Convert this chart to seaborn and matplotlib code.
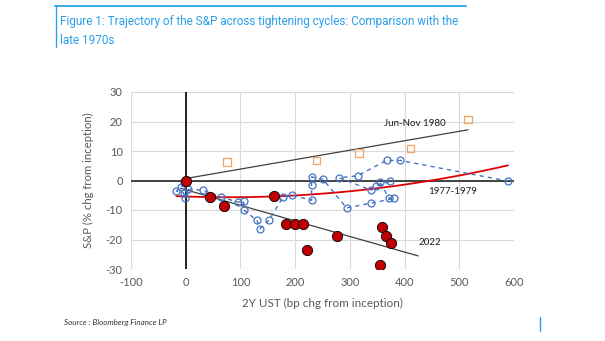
import numpy as np
import pandas as pd
import matplotlib
matplotlib.use("Agg")
import matplotlib.pyplot as plt
import seaborn as sns
from matplotlib.lines import Line2D

# ---- data ----
x_2022 = [0, 45, 70, 161, 183, 199, 215, 222, 277, 358, 366, 375, 355]
y_2022 = [0, -5.6, -8.8, -5.2, -14.6, -14.6, -14.6, -23.4, -18.8, -15.8, -18.9, -21.1, -28.6]

x_1980 = [0, 75, 239, 317, 411, 516]
y_1980 = [0, 6.2, 6.8, 9.3, 10.9, 20.7]

x_7779 = [-3, -9, -17, -4, -1, 5, 32, 64, 95, 106, 106, 130, 136, 152, 178, 195,
          230, 230, 230, 251, 294, 338, 381, 371, 355, 374, 347, 339, 281, 314,
          367, 392, 589]
y_7779 = [-1, -2.2, -3.6, -4.2, -6.1, -3, -3.3, -5.6, -7.3, -7.0, -10, -13.5, -16.3,
          -13.5, -5.6, -5.0, -6.7, -1.4, 1.2, 0.4, -9.3, -7.7, -6.1, -5.9, -0.5, -0.3,
          -1.9, -3.3, 0.9, 1.6, 6.8, 6.8, -0.2]

x_ticks = [-100, 0, 100, 200, 300, 400, 500, 600]
y_ticks = [-30, -20, -10, 0, 10, 20, 30]

title = "Figure 1: Trajectory of the S&P across tightening cycles: Comparison with the\nlate 1970s"

sns.set_style("white")
plt.rcParams['font.family'] = ['Lato', 'DejaVu Sans']
plt.rcParams['axes.unicode_minus'] = False

fig = plt.figure(figsize=(6.05, 3.41), dpi=100)
ax = fig.add_axes([131/605, 1-269/341, (514-131)/605, (269-92)/341])

# grid
ax.set_xlim(-100, 600)
ax.set_ylim(-30, 30)
ax.set_xticks(x_ticks)
ax.set_yticks(y_ticks)
ax.grid(True, color="#d9d9d9", linewidth=0.8)
for s in ax.spines.values():
    s.set_visible(False)
ax.axhline(-30, color="#d9d9d9", lw=0.8, zorder=0)
ax.axvline(600, color="#d9d9d9", lw=0.8, zorder=0)
ax.axvline(-100, color="#d9d9d9", lw=0.8, zorder=0)
ax.axhline(30, color="#d9d9d9", lw=0.8, zorder=0)
ax.axhline(0, color="#262626", lw=1.2, zorder=1)
ax.axvline(0, color="#000000", lw=1.2, zorder=1)

# trend lines
c80 = np.polyfit(x_1980, y_1980, 1)
xx80 = np.linspace(0, 516, 50)
sns.lineplot(x=xx80, y=np.polyval(c80, xx80), color="#404040", lw=0.9, ax=ax, zorder=2)

c22 = np.polyfit(x_2022, y_2022, 1)
xx22 = np.linspace(-10, 425, 50)
sns.lineplot(x=xx22, y=np.polyval(c22, xx22), color="#404040", lw=0.9, ax=ax, zorder=2)

c77 = np.polyfit(x_7779, y_7779, 2)
xx77 = np.linspace(-17, 589, 100)
sns.lineplot(x=xx77, y=np.polyval(c77, xx77), color="#e00000", lw=1.3, ax=ax, zorder=3)

# 1977-1979 path
df77 = pd.DataFrame({"x": x_7779, "y": y_7779})
sns.lineplot(data=df77, x="x", y="y", sort=False, estimator=None, ax=ax,
             color="#4472c4", lw=1.0, linestyle=(0, (3, 3)), marker="o",
             markersize=5, markerfacecolor="none", markeredgecolor="#4472c4",
             markeredgewidth=0.9, zorder=4)

# 1980 squares
sns.scatterplot(x=x_1980[1:], y=y_1980[1:], marker="s", s=30, facecolor="none",
                edgecolor="#f4a460", linewidth=0.9, ax=ax, zorder=5)

# 2022 red dots
sns.scatterplot(x=x_2022, y=y_2022, s=55, color="#c00000", edgecolor="black",
                linewidth=0.6, ax=ax, zorder=6)

# annotations
ax.text(418, 19.4, "Jun-Nov 1980", fontsize=7, ha="center", va="center", color="#1a1a1a")
ax.text(487, -3.6, "1977-1979", fontsize=7, ha="center", va="center", color="#1a1a1a")
ax.text(446, -21.1, "2022", fontsize=7, ha="center", va="center", color="#1a1a1a")

ax.tick_params(axis="both", length=0, labelsize=8, labelcolor="#595959", pad=6)
ax.set_xlabel("2Y UST (bp chg from inception)", fontsize=8.4, color="#595959", labelpad=7)
ax.set_ylabel("S&P (% chg from inception)", fontsize=8.2, color="#595959", labelpad=8)

# title and frame lines
fig.text(60/605, 1-31/341, title, fontsize=8.5, color="#2aa0ea", ha="left", va="center",
         linespacing=1.6, family=["Roboto", "DejaVu Sans"])
fig.add_artist(Line2D([55/605, 466/605], [1-5.7/341, 1-5.7/341], color="#2aa0ea", lw=1.3))
fig.add_artist(Line2D([55.5/605, 55.5/605], [1-5.7/341, 1-47/341], color="#2aa0ea", lw=1.0))
fig.add_artist(Line2D([540/605, 540/605], [1-317/341, 1-331/341], color="#2aa0ea", lw=1.0))
fig.text(64/605, 1-323/341, "Source : Bloomberg Finance LP", fontsize=5.8, style="italic",
         color="#333333", ha="left", va="center")

fig.savefig("out.png", dpi=100)
